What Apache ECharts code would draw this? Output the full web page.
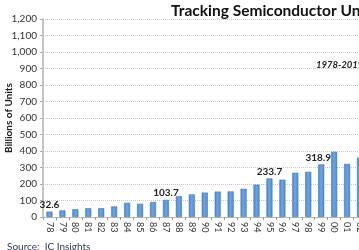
<!DOCTYPE html>
<html>
<head>
<meta charset="utf-8">
<script src="https://cdn.jsdelivr.net/npm/echarts@6/dist/echarts.min.js"></script>
<style>
  html, body { margin: 0; padding: 0; background: #fff; }
  #chart { width: 359px; height: 250px; }
</style>
</head>
<body>
<div id="chart"></div>
<script>
const years = ['78','79','80','81','82','83','84','85','86','87','88','89','90','91','92','93','94','95','96','97','98','99','00','01','02'];
const units = [32.6, 40, 47, 53, 53, 64, 86, 80, 91, 103.7, 126, 137, 148, 154, 155, 171, 196, 233.7, 226, 268, 274, 318.9, 395, 322, 360];
const labelled = ['78', '87', '95', '99'];
const yTicks = { min: 0, max: 1200, step: 100 };

const fnt = 'Lato, "Open Sans", sans-serif';

const chart = echarts.init(document.getElementById('chart'));
chart.setOption({
  animation: false,
  title: [
    { text: 'Tracking Semiconductor Unit Shipments', left: 166, top: -2,
      textStyle: { fontFamily: fnt, fontSize: 15.5, fontWeight: 'bold', color: '#111' } },
    { text: '1978-2019', left: 311, top: 55,
      textStyle: { fontFamily: fnt, fontSize: 9.5, fontWeight: 'bold', fontStyle: 'italic', color: '#222' } },
    { text: 'Source:  IC Insights', left: 2, top: 237,
      textStyle: { fontFamily: fnt, fontSize: 10, fontWeight: 'normal', color: '#2b3a55' } }
  ],
  grid: { left: 43, top: 19, width: years.length * 12.94, bottom: 33, outerBoundsMode: 'none', containLabel: false },
  xAxis: {
    type: 'category',
    data: years,
    axisLine: { lineStyle: { color: '#bbbbbb', width: 1 } },
    axisTick: { show: true, length: 3, lineStyle: { color: '#999' } },
    axisLabel: { rotate: -90, fontFamily: fnt, fontSize: 9, color: '#333', margin: 5, interval: 0 }
  },
  yAxis: {
    type: 'value',
    min: yTicks.min, max: yTicks.max, interval: yTicks.step,
    name: 'Billions of Units',
    nameLocation: 'middle',
    nameGap: 29,
    nameMoveOverlap: false,
    nameTextStyle: { fontFamily: fnt, fontSize: 10, fontWeight: 'bold', color: '#222' },
    axisLine: { show: true, lineStyle: { color: '#c4c4c4', width: 2 } },
    axisTick: { show: true, length: 3, lineStyle: { color: '#aaa' } },
    axisLabel: { fontFamily: fnt, fontSize: 10, color: '#333', margin: 6,
      formatter: v => v.toLocaleString('en-US') },
    splitLine: { lineStyle: { color: '#c8c8c8', type: [1, 1], width: 1 } }
  },
  series: [{
    type: 'bar',
    barWidth: 6,
    data: units.map((v, i) => ({
      value: v,
      label: labelled.includes(years[i]) ? {
        show: true, position: 'top', distance: 2,
        offset: years[i] === '99' ? [-3, 0] : [0, 0],
        fontFamily: fnt, fontSize: 10, fontWeight: 'bold', color: '#222'
      } : { show: false }
    })),
    itemStyle: {
      color: new echarts.graphic.LinearGradient(0, 0, 1, 0, [
        { offset: 0, color: '#4f86c9' },
        { offset: 0.5, color: '#6aa6e6' },
        { offset: 1, color: '#4f86c9' }
      ]),
      borderColor: '#3a6fb0', borderWidth: 0.5
    }
  }]
});
</script>
</body>
</html>
